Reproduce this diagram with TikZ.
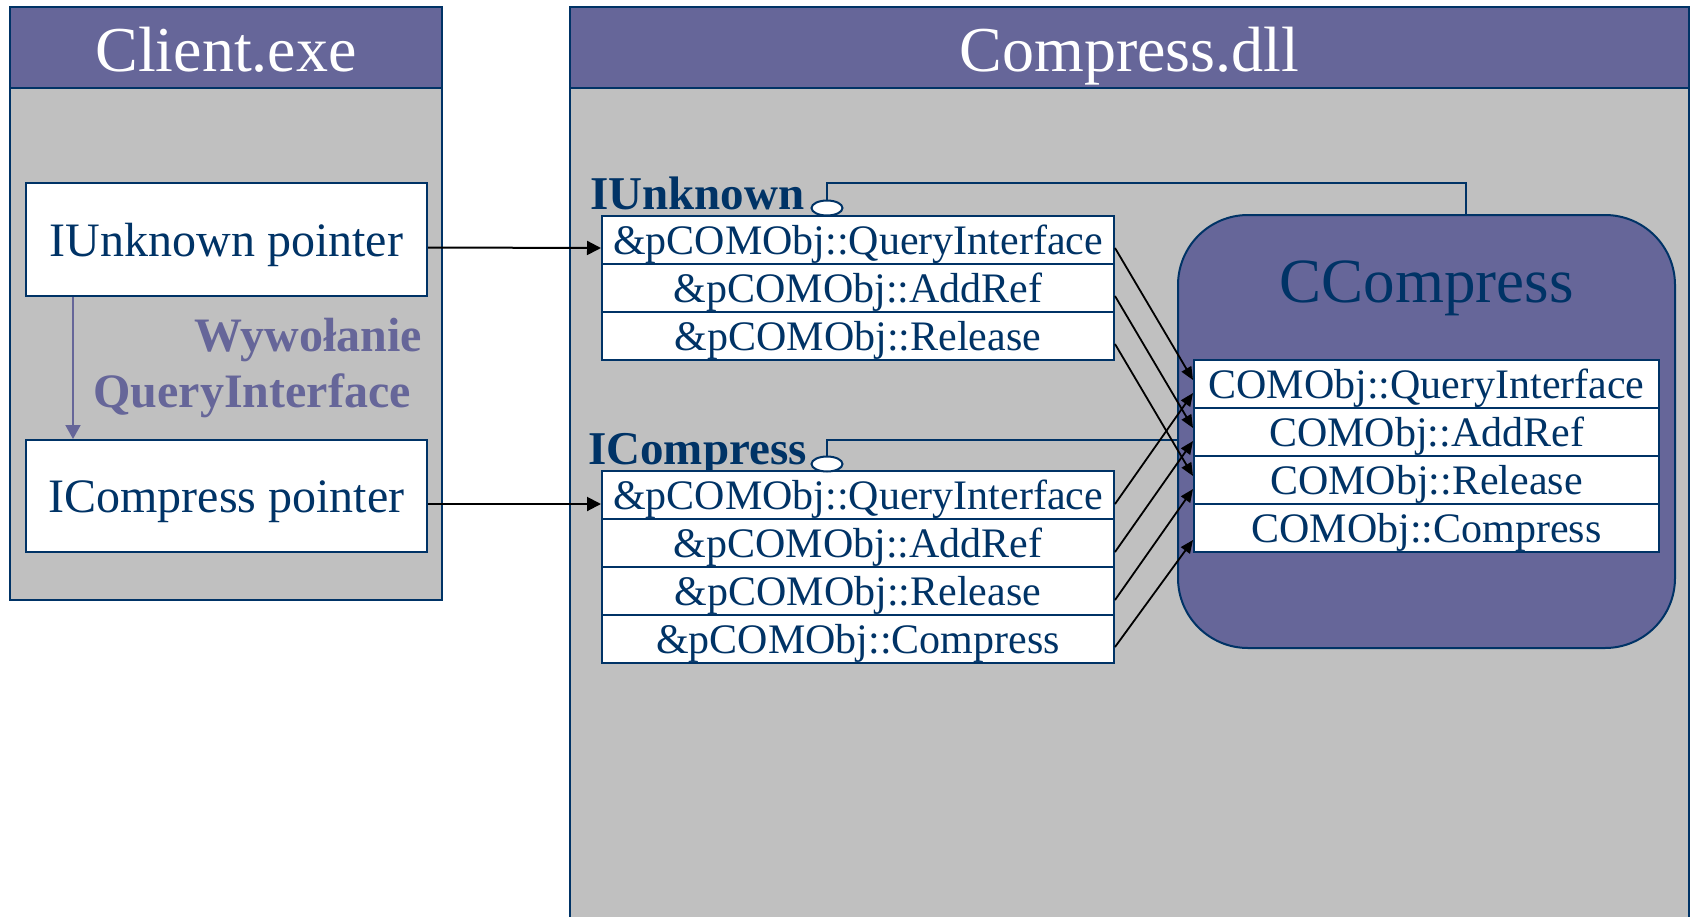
\documentclass[tikz,border=0pt]{standalone}
\usepackage{fontspec}
\setmainfont{Liberation Serif}
\usetikzlibrary{arrows.meta}
\usetikzlibrary{shapes.geometric}
\definecolor{hdr}{HTML}{666699}
\definecolor{panelgray}{HTML}{C0C0C0}
\definecolor{navy}{HTML}{003366}

\tikzset{
  panel/.style={draw=navy, line width=2pt, fill=panelgray, inner sep=0pt},
  header/.style={draw=navy, line width=2pt, fill=hdr, text=white, inner sep=0pt,
    font=\fontsize{64}{70}\selectfont, text height=48pt, text depth=0pt},
  ptrbox/.style={draw=navy, line width=2pt, fill=white, text=navy, inner sep=0pt,
    minimum width=401pt, minimum height=113pt,
    font=\fontsize{48}{56}\selectfont, text height=33pt, text depth=0pt},
  slot/.style={draw=navy, line width=2pt, fill=white, text=navy, inner sep=0pt,
    minimum width=512pt, minimum height=48pt,
    font=\fontsize{42}{48}\selectfont, text height=29pt, text depth=0pt},
  method/.style={slot, minimum width=465pt},
  ifacename/.style={text=navy, inner sep=0pt, font=\fontsize{47}{56}\bfseries},
  lolly/.style={ellipse, draw=navy, line width=2pt, fill=white, inner sep=0pt,
    minimum width=31pt, minimum height=15pt},
  wire/.style={draw=navy, line width=2pt},
  ptrarrow/.style={-{Triangle[length=14pt,width=14pt]}, line width=2pt},
  callarrow/.style={-{Triangle[length=13pt,width=11pt]}, line width=1.8pt}
}

\begin{document}
\begin{tikzpicture}[x=1pt, y=-1pt]
  \useasboundingbox (0,0) rectangle (1692,916);
  % client.exe
  \node[panel, minimum width=432pt, minimum height=593pt] (client) at (226,303.5) {};
  \node[header, minimum width=432pt, minimum height=81pt] (clienthead) at (226,47.5) {Client.exe};
  \node[ptrbox] (ptrA) at (226.5,239.5) {IUnknown pointer};
  \node[ptrbox, minimum height=112pt] (ptrB) at (226.5,496) {ICompress pointer};
  \draw[hdr, -{Triangle[length=14pt,width=15pt]}, line width=2pt]
    ([xshift=48pt]ptrA.south west) -- ([xshift=48pt]ptrB.north west);
  \node[anchor=east, align=right, inner sep=0pt, text=hdr,
    font=\fontsize{48}{56}\bfseries] (qicall) at (422,368) {Wywołanie\\QueryInterface\hspace*{11pt}};

  % compress.dll
  \node[panel, minimum width=1119pt, minimum height=926pt] (dll) at (1129.5,470) {};
  \node[header, minimum width=1119pt, minimum height=81pt] (dllhead) at (1129.5,47.5) {Compress.dll};

  % vtable IUnknown
  \node[ifacename, anchor=base west] (iuname) at (590,209) {IUnknown};
  \node[slot] (vtA1) at (858,240) {\&pCOMObj::QueryInterface};
  \node[slot] (vtA2) at (858,288) {\&pCOMObj::AddRef};
  \node[slot] (vtA3) at (858,336) {\&pCOMObj::Release};
  \node[lolly] (lolA) at (827,208) {};

  % vtable ICompress
  \node[ifacename, anchor=base west] (icname) at (588,464) {ICompress};
  \node[slot] (vtB1) at (858,495) {\&pCOMObj::QueryInterface};
  \node[slot] (vtB2) at (858,543) {\&pCOMObj::AddRef};
  \node[slot] (vtB3) at (858,591) {\&pCOMObj::Release};
  \node[slot] (vtB4) at (858,639) {\&pCOMObj::Compress};
  \node[lolly] (lolB) at (827,464) {};

  % object CCompress
  \node[draw=navy, line width=2pt, fill=hdr, rounded corners=70pt,
    minimum width=497pt, minimum height=433pt] (ccomp) at (1426.5,431.5) {};
  \node[anchor=base, text=navy, inner sep=0pt, font=\fontsize{63}{70}\selectfont]
    (ccname) at (1426.5,302) {CCompress};
  \node[method] (m1) at (1426.5,384) {COMObj::QueryInterface};
  \node[method] (m2) at (1426.5,432) {COMObj::AddRef};
  \node[method] (m3) at (1426.5,480) {COMObj::Release};
  \node[method] (m4) at (1426.5,528) {COMObj::Compress};

  % interface lines
  \coordinate (iuJoin) at (1466,183);
  \draw[wire] (lolA.north) |- (iuJoin) -- (iuJoin |- ccomp.north);
  \draw[wire] (lolB.north) |- ([yshift=-8.5pt]ccomp.west);

  % pointers
  \draw[ptrarrow] ([yshift=-8pt]ptrA.east) -- ([yshift=-8pt]vtA1.west);
  \draw[ptrarrow] ([yshift=-8pt]ptrB.east) -- ([yshift=-9pt]vtB1.west);

  % vtable entries to methods
  \draw[callarrow] ([yshift=-8pt]vtA1.east) -- ([yshift=4pt]m1.west);
  \draw[callarrow] ([yshift=-8pt]vtA2.east) -- ([yshift=4pt]m2.west);
  \draw[callarrow] ([yshift=-8pt]vtA3.east) -- ([yshift=4pt]m3.west);
  \draw[callarrow] ([yshift=-9pt]vtB1.east) -- ([yshift=-9pt]m1.west);
  \draw[callarrow] ([yshift=-9pt]vtB2.east) -- ([yshift=-9pt]m2.west);
  \draw[callarrow] ([yshift=-9pt]vtB3.east) -- ([yshift=-9pt]m3.west);
  \draw[callarrow] ([yshift=-8pt]vtB4.east) -- ([yshift=-12pt]m4.west);
\end{tikzpicture}
\end{document}
